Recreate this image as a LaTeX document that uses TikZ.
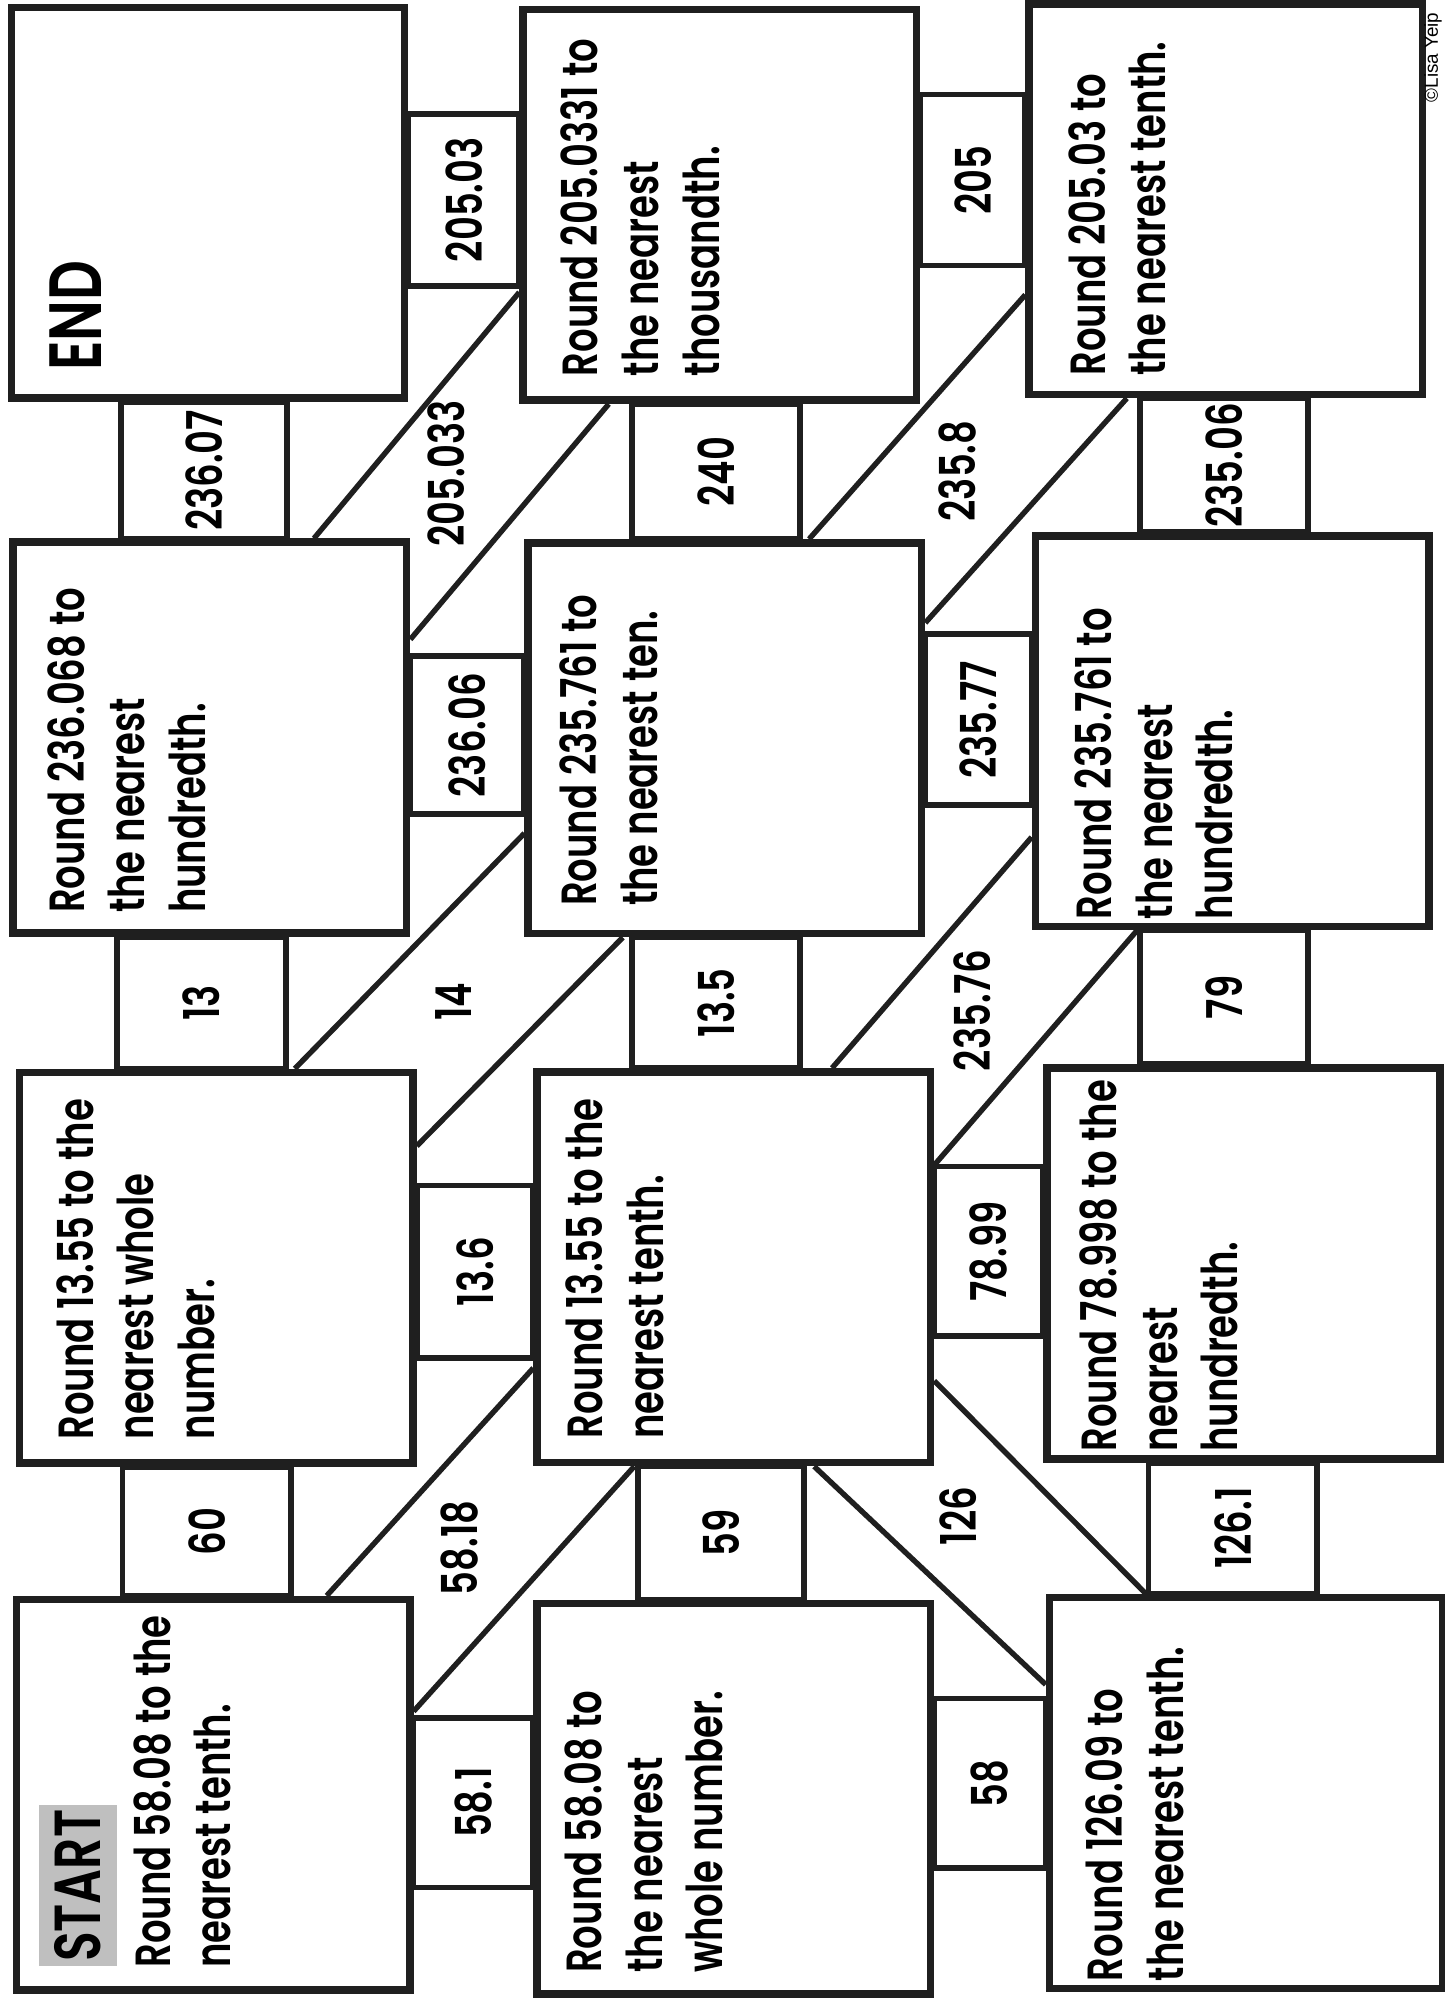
\documentclass[tikz,border=0pt]{standalone}
\usepackage{fontspec}
\setmainfont{Poppins}[FakeStretch=0.75, UprightFont=* SemiBold]
\newfontfamily\tagfont{Liberation Sans}
\usetikzlibrary{calc,fit}

\begin{document}
\begin{tikzpicture}[x=0.01cm, y=-0.01cm,
  cell/.style={draw=black!88, line width=1.7pt, minimum width=3.08cm, minimum height=3.06cm, inner sep=0pt},
  task/.style={rotate=90, anchor=north west, align=left, inner sep=0pt, font=\fontsize{11}{13.5}\selectfont},
  link/.style={draw=black!88, line width=1.3pt, inner sep=0pt},
  wall/.style={draw=black!88, line width=1.2pt},
  num/.style={rotate=90, inner sep=0pt, font=\fontsize{11}{13.5}\selectfont}]
  \useasboundingbox (0,0) rectangle (1132,1568);

  % the twelve cells, top row first
  \node[cell] (bE)  at (163,159)    {};
  \node[cell] (b12) at (564,160.5)  {};
  \node[cell] (b13) at (960.5,156)  {};
  \node[cell] (b21) at (164.5,578)  {};
  \node[cell] (b22) at (568,578.5)  {};
  \node[cell] (b23) at (965.5,573)  {};
  \node[cell] (b31) at (169.5,993.5) {};
  \node[cell] (b32) at (575,993)    {};
  \node[cell] (b33) at (974.5,990)  {};
  \node[cell] (b41) at (167,1406.5) {};
  \node[cell] (b42) at (575,1409.5) {};
  \node[cell] (b43) at (976.5,1405) {};

  \node[task, font=\fontsize{16.5}{18}\selectfont] (tE) at ($(bE.south west)+(32,-24)$) {END};
  \node[task] (t12) at ($(b12.south west)+(32,-21)$) {Round 205.0331 to\\the nearest\\thousandth.};
  \node[task] (t13) at ($(b13.south west)+(33,-17)$) {Round 205.03 to\\the nearest tenth.};
  \node[task] (t21) at ($(b21.south west)+(29,-18)$) {Round 236.068 to\\the nearest\\hundredth.};
  \node[task] (t22) at ($(b22.south west)+(27,-24)$) {Round 235.761 to\\the nearest ten.};
  \node[task] (t23) at ($(b23.south west)+(33,-8)$) {Round 235.761 to\\the nearest\\hundredth.};
  \node[task] (t31) at ($(b31.south west)+(31,-21)$) {Round 13.55 to the\\nearest whole\\number.};
  \node[task] (t32) at ($(b32.south west)+(25,-21)$) {Round 13.55 to the\\nearest tenth.};
  \node[task] (t33) at ($(b33.south west)+(28,-8)$) {Round 78.998 to the\\nearest\\hundredth.};
  \node[task, fill=black!25, inner xsep=1pt, inner ysep=3.5pt, font=\fontsize{14.5}{16}\selectfont] (start) at ($(b41.south west)+(20,-21)$) {START};
  \node[task] (t41) at ($(b41.south west)+(94,-20)$) {Round 58.08 to the\\nearest tenth.};
  \node[task] (t42) at ($(b42.south west)+(24,-19)$) {Round 58.08 to\\the nearest\\whole number.};
  \node[task] (t43) at ($(b43.south west)+(31,-8)$) {Round 126.09 to\\the nearest tenth.};

  % passages between cells in a row
  \node[link, fit={(bE.east |- 0,89) (b12.west |- 0,224)}] (v20503) {};
  \node[link, fit={(b12.east |- 0,74) (b13.west |- 0,208)}] (v205) {};
  \node[link, fit={(b21.east |- 0,514) (b22.west |- 0,638)}] (v23606) {};
  \node[link, fit={(b22.east |- 0,497) (b23.west |- 0,631)}] (v23577) {};
  \node[link, fit={(b31.east |- 0,929) (b32.west |- 0,1064)}] (v136) {};
  \node[link, fit={(b32.east |- 0,914) (b33.west |- 0,1047)}] (v7899) {};
  \node[link, fit={(b41.east |- 0,1346) (b42.west |- 0,1479)}] (v581) {};
  \node[link, fit={(b42.east |- 0,1331) (b43.west |- 0,1464)}] (v58) {};

  % passages between rows
  \node[link, fit={(bE.south -| 95,0) (b21.north -| 225,0)}] (v23607) {};
  \node[link, fit={(b12.south -| 495,0) (b22.north -| 627,0)}] (v240) {};
  \node[link, fit={(b13.south -| 893,0) (b23.north -| 1025,0)}] (v23506) {};
  \node[link, fit={(b21.south -| 92,0) (b31.north -| 224,0)}] (v13) {};
  \node[link, fit={(b22.south -| 495,0) (b32.north -| 627,0)}] (v135) {};
  \node[link, fit={(b23.south -| 893,0) (b33.north -| 1025,0)}] (v79) {};
  \node[link, fit={(b31.south -| 96,0) (b41.north -| 228,0)}] (v60) {};
  \node[link, fit={(b32.south -| 500,0) (b42.north -| 630,0)}] (v59) {};
  \node[link, fit={(b33.south -| 900,0) (b43.north -| 1032,0)}] (v1261) {};

  \node[num] at (v20503) {205.03};
  \node[num] at (v205)   {205};
  \node[num] at (v23606) {236.06};
  \node[num] at (v23577) {235.77};
  \node[num] at (v136)   {13.6};
  \node[num] at (v7899)  {78.99};
  \node[num] at (v581)   {58.1};
  \node[num] at (v58)    {58};
  \node[num] at (v23607) {236.07};
  \node[num] at (v240)   {240};
  \node[num] at (v23506) {235.06};
  \node[num] at (v13)    {13};
  \node[num] at (v135)   {13.5};
  \node[num] at (v79)    {79};
  \node[num] at (v60)    {60};
  \node[num] at (v59)    {59};
  \node[num] at (v1261)  {126.1};

  % slanted passages
  \draw[wall] (b21.north -| 246,0) -- (b12.west |- 0,229);
  \draw[wall] (b21.east |- 0,501) -- (b12.south -| 477,0);
  \node[num] (v205033) at (350,371) {205.033};
  \draw[wall] (b22.north -| 634,0) -- (b13.west |- 0,231);
  \draw[wall] (b22.east |- 0,488) -- (b13.south -| 883,0);
  \node[num] (v2358) at (750,369) {235.8};
  \draw[wall] (b31.north -| 231,0) -- (b22.west |- 0,653);
  \draw[wall] (b31.east |- 0,898) -- (b22.south -| 488,0);
  \node[num] (v14) at (355,785) {14};
  \draw[wall] (b32.north -| 652,0) -- (b23.west |- 0,656);
  \draw[wall] (b32.east |- 0,913) -- (b23.south -| 891,0);
  \node[num] (v23576) at (762,792) {235.76};
  \draw[wall] (b41.north -| 256,0) -- (b32.west |- 0,1072);
  \draw[wall] (b41.east |- 0,1341) -- (b32.south -| 497,0);
  \node[num] (v5818) at (360,1213) {58.18};
  \draw[wall] (b32.east |- 0,1082) -- (b43.north -| 898,0);
  \draw[wall] (b32.south -| 638,0) -- (b43.west |- 0,1320);
  \node[num] (v126) at (751,1188) {126};

  \node[rotate=90, inner sep=0pt, font=\tagfont\fontsize{4.2}{5}\selectfont] (tag) at (1123,45) {©Lisa Yeip};
\end{tikzpicture}
\end{document}
